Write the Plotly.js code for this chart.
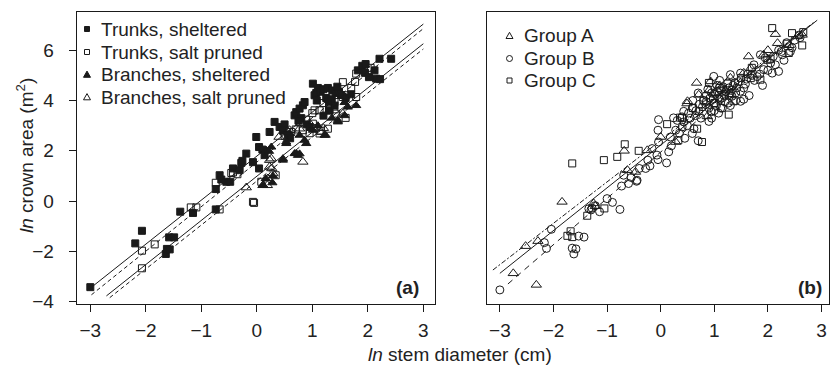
<!DOCTYPE html>
<html>
<head>
<meta charset="utf-8">
<script src="https://cdn.plot.ly/plotly-3.0.1.min.js"></script>
<style>html,body{margin:0;padding:0;background:#fff;}#chart{width:835px;height:367px;}</style>
</head>
<body>
<div id="chart"></div>
<script>
// ---------- Panel (a) data: ln stem diameter (x) vs ln crown area (y) ----------
const tsX = [-3.00,-2.19,-2.07,-1.64,-1.62,-1.57,-1.58,-1.49,-1.38,-1.15,-0.74,-0.74,-0.67,-0.55,-0.48,-0.64,-0.43,-0.31,-0.28,-0.26,-0.19,-0.07,-0.01,0.04,0.04,0.10,0.14,0.23,0.32,0.41,0.50,0.47,0.56,0.60,0.68,0.71,0.77,0.80,0.83,0.86,0.75,0.90,0.95,1.01,1.04,1.07,1.10,1.15,1.20,1.08,1.25,1.30,1.35,1.28,1.36,1.42,1.48,1.52,1.45,1.30,1.20,1.40,1.60,1.70,1.82,1.90,1.96,1.95,2.02,2.12,2.15,2.22,2.21,2.42];
const tsY = [-3.42,-1.68,-1.18,-2.10,-1.90,-1.92,-1.44,-1.44,-0.42,-0.47,-0.33,0.48,1.03,0.77,0.77,0.86,1.30,1.23,1.52,1.60,1.89,1.55,2.55,2.15,1.30,2.05,1.83,2.75,3.15,2.95,3.05,2.80,2.62,2.50,3.41,3.54,3.68,3.30,3.81,3.94,3.20,3.05,2.95,4.67,4.21,4.30,4.50,4.35,4.45,4.00,4.10,3.95,4.05,4.50,4.40,4.30,4.35,4.22,4.55,3.60,3.40,3.80,4.10,4.25,5.20,5.38,5.45,5.10,4.93,5.20,4.87,4.85,5.66,5.66];

const tpX = [-2.07,-2.07,-1.84,-1.19,-1.09,-0.67,-0.74,-0.46,-0.43,-0.35,-0.05,-0.07,0.08,0.34,0.50,0.62,0.77,0.83,0.89,1.01,1.04,1.04,1.13,1.13,1.15,1.28,1.31,1.40,1.43,1.55,1.61,1.60,1.55,1.77,1.79,1.79,1.30,1.20,0.95,0.70,2.05,1.70,1.00];
const tpY = [-2.67,-1.97,-1.72,-0.25,-0.25,-0.33,0.73,1.12,1.14,1.07,-0.07,-0.03,0.77,1.03,2.60,2.75,3.15,2.82,3.24,3.08,2.90,3.61,3.61,2.69,2.80,2.88,3.61,3.94,3.48,4.14,4.21,3.31,4.73,4.74,5.07,4.14,3.70,3.90,2.70,2.85,5.30,4.50,3.50];

const bsX = [0.28,0.16,0.11,0.29,0.17,0.26,0.22,0.47,0.47,0.53,0.53,0.59,0.68,0.71,0.74,0.77,0.77,0.86,0.89,1.01,1.10,1.22,1.24,1.46,1.46,1.58,1.58,1.64,1.79,1.35];
const bsY = [0.73,0.90,0.63,1.00,2.02,2.15,1.98,1.63,1.69,2.29,2.35,2.69,1.89,1.90,1.82,1.88,2.62,2.42,2.29,2.82,3.00,2.62,2.62,3.15,3.21,3.40,3.92,3.74,3.80,3.30];

const bpX = [-0.19,0.11,0.19,0.23,0.29,0.27,0.26,0.23,0.83,0.59,0.77,1.16,1.20,1.55,0.40,0.95,1.40,0.20];
const bpY = [0.54,0.63,0.63,1.63,1.10,1.30,1.69,1.36,1.56,2.82,2.88,2.75,2.90,3.48,2.55,3.10,3.60,0.90];

// fitted lines, panel (a): slope, intercept, x start, x end
const fitA_slope = [1.75, 1.77, 1.756, 1.75];
const fitA_icpt  = [1.79, 1.55, 0.99, 0.80];
const fitA_x0    = [-3.0, -2.98, -2.71, -2.65];
const fitA_x1    = [3.0, 3.0, 3.0, 3.0];
const fitA_dash  = ['solid', '4px,3px', 'solid', '4px,3px'];

// ---------- Panel (b) data ----------
const gaX = [-2.75,-2.32,-2.52,-2.29,-1.84,-1.25,-1.22,-0.68,-0.62,-0.47,-0.25,0.00,0.28,0.49,0.50,0.67,0.71,0.90,0.93,0.87,1.64,1.68,1.92,2.14,2.18,2.64,2.55,1.10,1.30,1.55,2.00,2.40,1.00,1.20];
const gaY = [-2.87,-3.33,-1.79,-1.59,-0.03,-0.09,-0.20,2.00,1.23,1.16,2.02,2.55,2.35,3.88,3.97,4.70,4.23,4.40,4.76,3.37,5.75,5.29,5.82,6.64,6.28,6.61,6.55,4.60,4.90,5.10,6.00,6.20,4.30,4.40];

const gbX = [-3.00,-2.17,-2.13,-2.04,-1.65,-1.62,-1.58,-1.53,-1.43,-1.34,-1.30,-1.28,-1.22,-1.14,-0.76,-0.73,-0.69,-0.55,-0.45,-0.44,-0.28,-0.24,-0.16,-0.07,-0.05,-0.04,-0.05,0.11,0.15,0.18,0.28,0.31,0.43,0.59,0.62,-0.04,0.24,0.43,0.59,0.71,0.84,0.99,1.08,1.12,1.30,1.49,1.49,1.49,1.12,1.27,1.33,1.15,1.08,0.90,1.92,2.05,2.08,2.20,2.14,2.27,2.42,1.86,1.74,0.80,0.85,0.95,1.00,1.05,1.10,1.18,1.20,1.25,1.35,1.40,1.45,1.55,1.60,1.65,1.70,1.80,0.65,0.75,0.55,0.50,0.35,0.45,0.70,0.95,1.00,0.60,0.70,0.90,1.30,1.40,1.55,1.90,2.00,2.30,2.50,2.58,2.35,2.20,1.95,0.40,0.20,-0.20,-0.40,-0.60,-1.00,-0.90,
  0.85,0.92,0.98,1.02,1.06,1.14,1.16,1.22,1.28,0.88,0.78,0.72,0.66,1.32,1.38,1.42,1.58,1.62,1.75,1.85,2.10,2.25,2.45,2.60,0.52,0.40,1.04,1.10,0.94,1.26];
const gbY = [-3.53,-1.65,-1.88,-1.12,-1.87,-2.10,-1.90,-1.39,-1.43,-0.30,-0.35,-0.28,-0.18,-0.42,-0.33,0.60,1.03,0.94,0.79,0.83,1.30,1.63,2.09,1.83,1.65,2.35,2.82,1.52,1.96,2.55,2.82,3.21,3.15,2.69,2.88,3.24,3.31,3.57,3.70,3.57,3.84,4.96,4.10,3.70,5.03,5.09,4.37,3.97,4.43,4.50,4.17,3.70,3.50,3.17,5.23,5.49,5.09,5.16,5.42,5.82,5.95,5.82,5.42,4.00,4.20,4.30,3.90,4.60,4.80,4.20,3.95,4.70,4.60,4.30,4.75,4.50,4.85,4.20,5.00,4.95,3.40,3.30,3.30,3.00,2.70,2.50,2.40,3.30,3.60,4.00,4.30,3.70,3.80,4.00,4.05,4.60,5.20,5.60,6.40,6.60,6.30,6.00,5.70,2.95,2.20,1.40,1.30,0.70,0.10,-0.05,
  3.95,4.10,4.05,4.25,4.35,4.10,4.55,4.35,4.25,4.45,3.75,3.85,3.60,4.40,4.70,4.50,4.65,5.05,4.80,5.05,5.75,5.95,6.10,6.50,3.50,3.35,3.80,4.05,3.55,3.90];

const gcX = [-1.74,-1.65,-1.68,-1.37,-1.05,-1.65,-1.06,-0.81,-0.67,-0.41,0.12,0.33,0.36,0.40,0.68,0.77,1.27,1.36,1.68,1.86,1.99,2.05,2.36,2.39,2.08,2.45,2.66,2.64,0.80,1.00,1.10,0.60,1.50,1.70,0.90,1.30];
const gcY = [-1.38,-1.43,-1.20,-0.58,-0.29,1.50,1.63,1.76,2.26,2.00,3.06,2.42,3.32,3.31,2.88,2.35,3.44,3.97,4.89,4.83,5.62,5.66,6.26,5.89,6.88,6.68,6.72,6.19,4.00,3.90,4.50,3.70,4.90,5.30,4.70,4.30];

// fitted lines, panel (b)
const fitB_slope = [1.645, 1.70, 1.84];
const fitB_icpt  = [2.41, 2.23, 1.95];
const fitB_x0    = [-3.13, -3.0, -2.85];
const fitB_x1    = [2.85, 2.92, 2.73];
const fitB_dash  = ['5px,2px,2px,2px', 'solid', '6px,5px'];

// legend labels
const legendA = ['Trunks, sheltered', 'Trunks, salt pruned', 'Branches, sheltered', 'Branches, salt pruned'];
const legendB = ['Group A', 'Group B', 'Group C'];

// ---------- build traces ----------
const ink = '#1a1a1a';
const font = 'Liberation Sans, Arial, Helvetica, sans-serif';
const traces = [];
function pts(x, y, name, symbol, size, xa, ya) {
  traces.push({x: x, y: y, name: name, type: 'scatter', mode: 'markers', xaxis: xa, yaxis: ya, showlegend: false,
    marker: {symbol: symbol, size: size, color: ink, line: {color: ink, width: 1}}});
}
function fits(sl, ic, x0, x1, dash, xa, ya) {
  for (let i = 0; i < sl.length; i++) {
    traces.push({x: [x0[i], x1[i]], y: [sl[i]*x0[i]+ic[i], sl[i]*x1[i]+ic[i]], type: 'scatter', mode: 'lines',
      xaxis: xa, yaxis: ya, showlegend: false, hoverinfo: 'skip',
      line: {color: ink, width: 1, dash: dash[i]}});
  }
}
fits(fitA_slope, fitA_icpt, fitA_x0, fitA_x1, fitA_dash, 'x', 'y');
fits(fitB_slope, fitB_icpt, fitB_x0, fitB_x1, fitB_dash, 'x2', 'y2');
pts(tsX, tsY, legendA[0], 'square', 7, 'x', 'y');
pts(tpX, tpY, legendA[1], 'square-open', 7, 'x', 'y');
pts(bsX, bsY, legendA[2], 'triangle-up', 8, 'x', 'y');
pts(bpX, bpY, legendA[3], 'triangle-up-open', 9, 'x', 'y');
pts(gaX, gaY, legendB[0], 'triangle-up-open', 9, 'x2', 'y2');
pts(gbX, gbY, legendB[1], 'circle-open', 8, 'x2', 'y2');
pts(gcX, gcY, legendB[2], 'square-open', 7, 'x2', 'y2');

const xTicks = [-3, -2, -1, 0, 1, 2, 3];
const yTicks = [-4, -2, 0, 2, 4, 6];

// ---------- geometry helpers (page pixels -> paper fractions) ----------
const W = 835, H = 367, ML = 77, MR = 6, MT = 12, MB = 63;
const PW = W - ML - MR, PH = H - MT - MB;
const px = v => (v - ML) / PW;
const py = v => (H - MB - v) / PH;

const axisBase = {showline: true, mirror: true, linecolor: ink, linewidth: 1.3, showgrid: false, zeroline: false,
  ticks: 'outside', ticklen: 7, tickwidth: 1, tickcolor: ink, tickfont: {family: font, size: 19, color: '#222'}};

// manual legends: real text annotations + small symbol shapes
const annotations = [];
const shapes = [];
function legendItem(label, kind, mx, tx, y) {
  annotations.push({text: label, xref: 'paper', yref: 'paper', x: px(tx), y: py(y), xanchor: 'left', yanchor: 'middle',
    showarrow: false, font: {family: font, size: 19, color: '#222'}});
  const base = {xref: 'paper', yref: 'paper', xsizemode: 'pixel', ysizemode: 'pixel', xanchor: px(mx), yanchor: py(y),
    line: {color: ink, width: 1}};
  if (kind === 'sqf') shapes.push(Object.assign({type: 'rect', x0: -2.5, x1: 2.5, y0: -2.5, y1: 2.5, fillcolor: ink}, base));
  if (kind === 'sqo') shapes.push(Object.assign({type: 'rect', x0: -2.5, x1: 2.5, y0: -2.5, y1: 2.5, fillcolor: 'rgba(0,0,0,0)'}, base));
  if (kind === 'trf') shapes.push(Object.assign({type: 'path', path: 'M-3.5,-2.8 L3.5,-2.8 L0,3.4 Z', fillcolor: ink}, base));
  if (kind === 'tro') shapes.push(Object.assign({type: 'path', path: 'M-3.5,-2.8 L3.5,-2.8 L0,3.4 Z', fillcolor: 'rgba(0,0,0,0)'}, base));
  if (kind === 'cio') shapes.push(Object.assign({type: 'circle', x0: -3, x1: 3, y0: -3, y1: 3, fillcolor: 'rgba(0,0,0,0)'}, base));
}
const kindsA = ['sqf', 'sqo', 'trf', 'tro'];
const rowsA = [29, 52, 74.5, 97];
legendA.forEach((t, i) => legendItem(t, kindsA[i], 87, 99, rowsA[i]));
const kindsB = ['tro', 'cio', 'sqo'];
const rowsB = [35.7, 58.5, 80.5];
legendB.forEach((t, i) => legendItem(t, kindsB[i], 509.5, 522, rowsB[i]));

annotations.push(
  {text: '<i>ln</i> stem diameter (cm)', xref: 'paper', yref: 'paper', x: px(460), y: py(354), xanchor: 'center', yanchor: 'middle',
   showarrow: false, font: {family: font, size: 19, color: '#222'}},
  {text: '<i>ln</i> crown area (m<sup>2</sup>)', xref: 'paper', yref: 'paper', x: px(25), y: py(156), xanchor: 'center', yanchor: 'middle',
   textangle: -90, showarrow: false, font: {family: font, size: 19, color: '#222'}},
  {text: '<b>(a)</b>', xref: 'paper', yref: 'paper', x: px(421), y: py(287), xanchor: 'right', yanchor: 'middle',
   showarrow: false, font: {family: font, size: 19, color: '#222'}},
  {text: '<b>(b)</b>', xref: 'paper', yref: 'paper', x: px(824), y: py(287), xanchor: 'right', yanchor: 'middle',
   showarrow: false, font: {family: font, size: 19, color: '#222'}}
);

const layout = {
  width: W, height: H,
  margin: {l: ML, r: MR, t: MT, b: MB},
  paper_bgcolor: '#fff', plot_bgcolor: '#fff',
  font: {family: font, color: '#222'},
  showlegend: false,
  xaxis: Object.assign({}, axisBase, {domain: [0, px(435)], range: [-3.24, 3.21], tickvals: xTicks, ticklabelstandoff: 2}),
  yaxis: Object.assign({}, axisBase, {range: [-4.09, 7.52], tickvals: yTicks, ticklabelstandoff: 11}),
  xaxis2: Object.assign({}, axisBase, {domain: [px(487), 1], range: [-3.24, 3.14], tickvals: xTicks, ticklabelstandoff: 2, anchor: 'y2'}),
  yaxis2: Object.assign({}, axisBase, {range: [-4.09, 7.52], ticks: '', showticklabels: false, anchor: 'x2'}),
  annotations: annotations,
  shapes: shapes
};

Plotly.newPlot('chart', traces, layout, {staticPlot: true, displayModeBar: false});
</script>
</body>
</html>
